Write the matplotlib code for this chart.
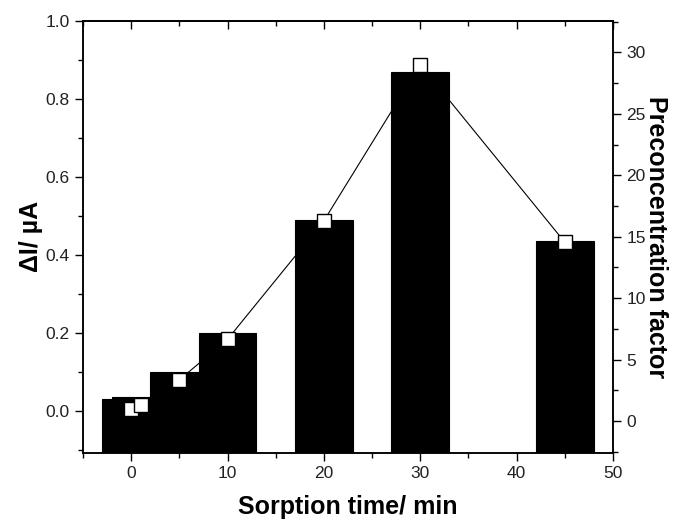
import matplotlib
matplotlib.use("Agg")
import matplotlib.pyplot as plt
from matplotlib.ticker import MultipleLocator, FormatStrFormatter

plt.rcParams['font.family'] = ['Liberation Sans', 'DejaVu Sans']

# Sorption time (min) and measured signal
times = [0, 1, 5, 10, 20, 30, 45]
current = [0.03, 0.035, 0.10, 0.20, 0.49, 0.87, 0.435]
# Preconcentration factor at each sorption time
factor = [0.95, 1.3, 3.35, 6.65, 16.3, 29.0, 14.55]

y_low = -0.107

fig = plt.figure(figsize=(6.76, 5.23), dpi=100)
ax = fig.add_axes([0.1228, 0.1344, 0.784, 0.8254])

# Bars rise from the lower frame edge
ax.bar(times, [c - y_low for c in current], bottom=y_low, width=6,
       color='black', edgecolor='black', linewidth=0.8, zorder=2)
ax.set_xlim(-5, 50)
ax.set_ylim(y_low, 1.0)
ax.xaxis.set_major_locator(MultipleLocator(10))
ax.xaxis.set_minor_locator(MultipleLocator(5))
ax.yaxis.set_major_locator(MultipleLocator(0.2))
ax.yaxis.set_minor_locator(MultipleLocator(0.1))
ax.tick_params(axis='x', which='both', direction='out', top=False, labelsize=12.5,
               labelcolor='#222222')
ax.tick_params(axis='y', which='both', direction='out', right=False, labelsize=12.5,
               labelcolor='#222222')
ax.tick_params(which='major', length=6, width=1)
ax.tick_params(which='minor', length=3.5, width=1)
ax.yaxis.set_major_formatter(FormatStrFormatter('%.1f'))
for s in ax.spines.values():
    s.set_linewidth(1.1)

# Inward ticks along the top edge
sec = ax.secondary_xaxis('top')
sec.xaxis.set_major_locator(MultipleLocator(10))
sec.xaxis.set_minor_locator(MultipleLocator(5))
sec.tick_params(which='both', direction='in', labeltop=False)
sec.tick_params(which='major', length=6, width=1)
sec.tick_params(which='minor', length=3.5, width=1)
sec.spines['top'].set_linewidth(1.1)

ax.set_xlabel('Sorption time/ min', fontsize=18, fontweight='bold', labelpad=10)
ax.set_ylabel('ΔI/ µA', fontsize=18, fontweight='bold', labelpad=2)

ax2 = ax.twinx()
ax2.plot(times, factor, color='black', linewidth=0.8, marker='s', markersize=10,
         markerfacecolor='white', markeredgecolor='black', markeredgewidth=1.0, zorder=3)
ax2.set_ylim(-2.58, 32.55)
ax2.yaxis.set_major_locator(MultipleLocator(5))
ax2.yaxis.set_minor_locator(MultipleLocator(2.5))
ax2.tick_params(which='both', direction='out', labelsize=12.5, labelcolor='#222222')
ax2.tick_params(which='major', length=6, width=1)
ax2.tick_params(which='minor', length=3.5, width=1)
ax2.set_ylabel('Preconcentration factor', fontsize=18, fontweight='bold',
               rotation=-90, labelpad=16)
for s in ax2.spines.values():
    s.set_linewidth(1.1)

fig.savefig('out.png', dpi=100)
